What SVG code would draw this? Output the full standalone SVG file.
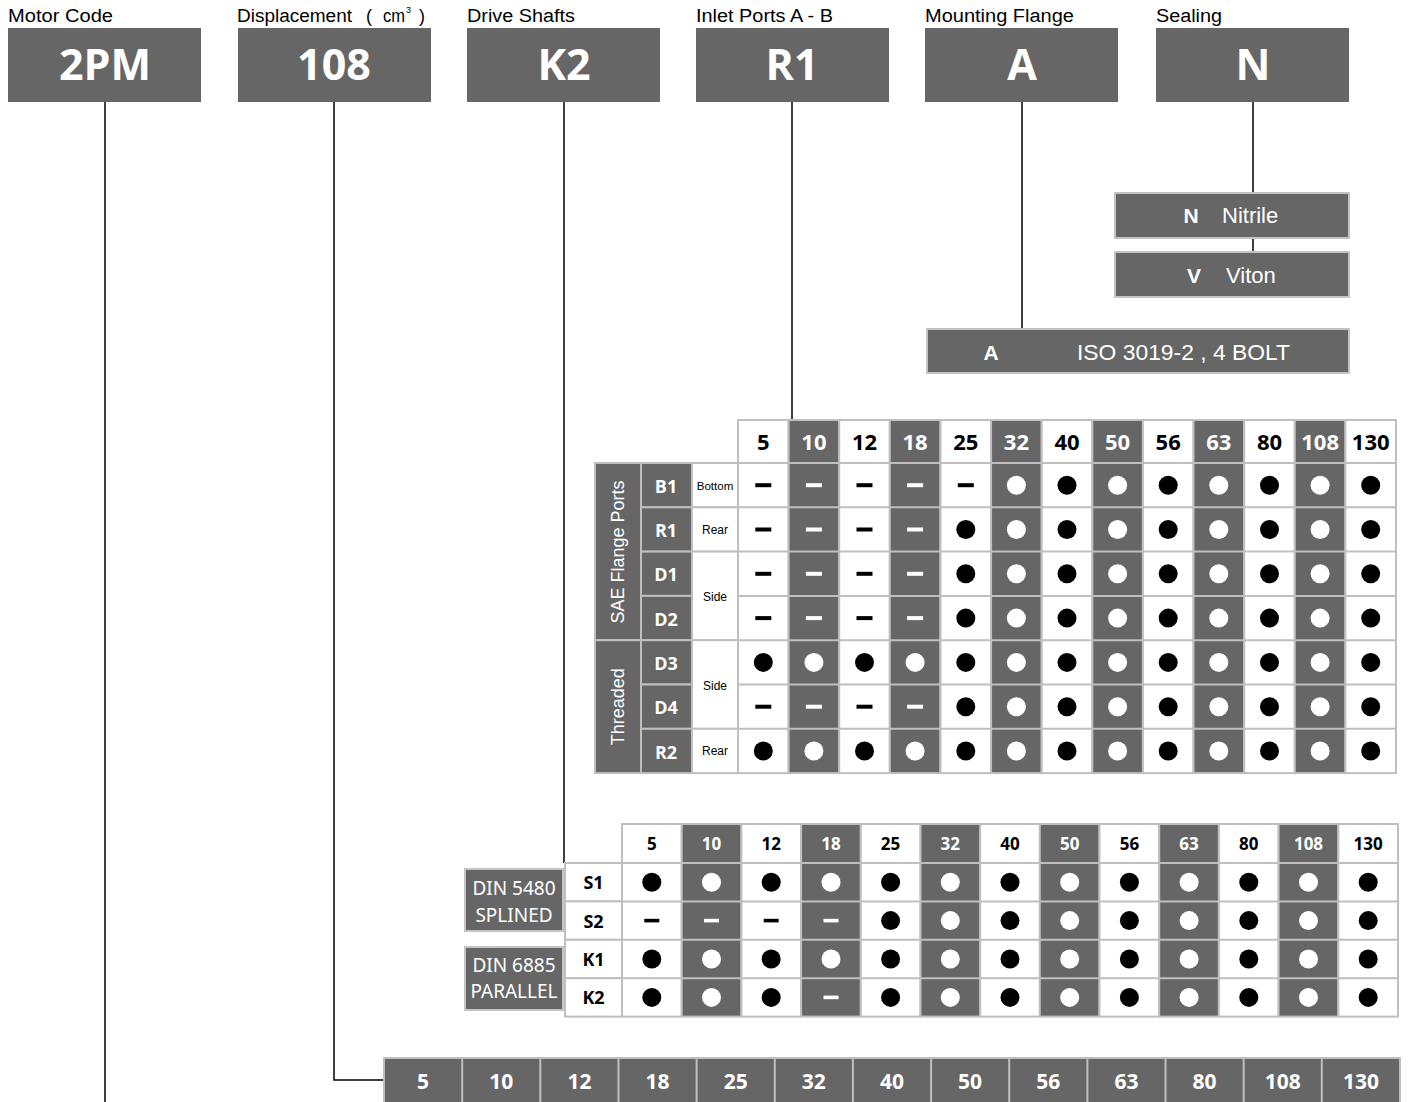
<svg xmlns="http://www.w3.org/2000/svg" xmlns:xlink="http://www.w3.org/1999/xlink" width="1408" height="1102" viewBox="0 0 1408 1102">
<style>
.lbl{font-family:"Liberation Sans",Arial,sans-serif;font-size:18px;fill:#000}
.big{font-family:"Open Sans","Noto Sans",sans-serif;font-weight:700;font-size:43px;fill:#fff;text-anchor:middle}
.dk{fill:#666}
.wt{fill:#fff}
.bx{fill:#666;stroke:#c4c4c4;stroke-width:2}
.st{font-family:"Liberation Sans",Arial,sans-serif;font-size:22px;fill:#fff}
.stb{font-family:"Liberation Sans",Arial,sans-serif;font-size:21px;font-weight:700;fill:#fff;text-anchor:middle}
.grid{fill:none;stroke:#bfbfbf;stroke-width:2}
.col{stroke:#bfbfbf;stroke-width:2}
.h1{font-family:"Open Sans","Noto Sans",sans-serif;font-weight:700;font-size:22px;text-anchor:middle}
.h2{font-family:"Open Sans","Noto Sans",sans-serif;font-weight:700;font-size:17px;text-anchor:middle}
.cd{font-family:"Open Sans","Noto Sans",sans-serif;font-weight:700;font-size:18px;text-anchor:middle}
.sm{font-family:"Liberation Sans",Arial,sans-serif;font-size:12px;fill:#000;text-anchor:middle}
.rot{font-family:"Liberation Sans",Arial,sans-serif;font-size:18px;fill:#fff;text-anchor:middle}
.din{font-family:"Noto Sans","Open Sans",sans-serif;font-size:19px;fill:#fff;text-anchor:middle}
.bar{font-family:"Open Sans","Noto Sans",sans-serif;font-weight:700;font-size:21px;fill:#fff;text-anchor:middle}
.con{fill:none;stroke:#000;stroke-width:1.5}
</style>
<defs>
<circle id="dt" r="9.5"/>
<rect id="ds" x="-8" y="-2" width="16" height="4"/>
<rect id="ds2" x="-7.5" y="-1.8" width="15" height="3.6"/>
</defs>

<!-- top labels -->
<g id="labels">
<text class="lbl" x="8" y="22" textLength="105" lengthAdjust="spacingAndGlyphs">Motor Code</text>
<text class="lbl" x="237" y="22" textLength="115" lengthAdjust="spacingAndGlyphs">Displacement</text>
<text class="lbl" x="366" y="22">(</text>
<text class="lbl" x="383" y="22" textLength="22" lengthAdjust="spacingAndGlyphs">cm</text>
<text class="lbl" x="406" y="13" style="font-size:9px">3</text>
<text class="lbl" x="419" y="22">)</text>
<text class="lbl" x="467" y="22" textLength="108" lengthAdjust="spacingAndGlyphs">Drive Shafts</text>
<text class="lbl" x="696" y="22" textLength="137" lengthAdjust="spacingAndGlyphs">Inlet Ports A - B</text>
<text class="lbl" x="925" y="22" textLength="149" lengthAdjust="spacingAndGlyphs">Mounting Flange</text>
<text class="lbl" x="1156" y="22" textLength="66" lengthAdjust="spacingAndGlyphs">Sealing</text>
</g>

<!-- connectors -->
<g id="connectors">
<path class="con" d="M105 101 V1102"/>
<path class="con" d="M334 101 V1080 H385"/>
<path class="con" d="M564 101 V863"/>
<path class="con" d="M792 101 V420"/>
<path class="con" d="M1022 101 V329"/>
<path class="con" d="M1253 101 V193"/>
<path class="con" d="M1253 238 V252"/>
</g>

<!-- header boxes -->
<g id="node-motor"><rect class="dk" x="8" y="28" width="193" height="74"/><text class="big" x="105" y="80">2PM</text></g>
<g id="node-disp"><rect class="dk" x="238" y="28" width="193" height="74"/><text class="big" x="334" y="80">108</text></g>
<g id="node-shaft"><rect class="dk" x="467" y="28" width="193" height="74"/><text class="big" x="564" y="80">K2</text></g>
<g id="node-ports"><rect class="dk" x="696" y="28" width="193" height="74"/><text class="big" x="792" y="80">R1</text></g>
<g id="node-flange"><rect class="dk" x="925" y="28" width="193" height="74"/><text class="big" x="1022" y="80">A</text></g>
<g id="node-seal"><rect class="dk" x="1156" y="28" width="193" height="74"/><text class="big" x="1253" y="80">N</text></g>

<!-- sealing options -->
<g id="node-nitrile"><rect class="bx" x="1115" y="193" width="234" height="45"/><text class="stb" x="1191" y="223">N</text><text class="st" x="1222" y="223">Nitrile</text></g>
<g id="node-viton"><rect class="bx" x="1115" y="252" width="234" height="45"/><text class="stb" x="1194" y="283">V</text><text class="st" x="1226" y="283">Viton</text></g>
<g id="node-iso"><rect class="bx" x="927" y="329" width="422" height="44"/><text class="stb" x="991" y="360">A</text><text class="st" x="1077" y="360" textLength="213" lengthAdjust="spacingAndGlyphs">ISO 3019-2 , 4 BOLT</text></g>

<!-- upper table -->
<g id="node-ports-table">
<g class="col">
<rect class="wt" x="738.0" y="420" width="50.6" height="353.1"/>
<rect class="dk" x="788.6" y="420" width="50.6" height="353.1"/>
<rect class="wt" x="839.2" y="420" width="50.6" height="353.1"/>
<rect class="dk" x="889.8" y="420" width="50.6" height="353.1"/>
<rect class="wt" x="940.5" y="420" width="50.6" height="353.1"/>
<rect class="dk" x="991.1" y="420" width="50.6" height="353.1"/>
<rect class="wt" x="1041.7" y="420" width="50.6" height="353.1"/>
<rect class="dk" x="1092.3" y="420" width="50.6" height="353.1"/>
<rect class="wt" x="1142.9" y="420" width="50.6" height="353.1"/>
<rect class="dk" x="1193.5" y="420" width="50.6" height="353.1"/>
<rect class="wt" x="1244.2" y="420" width="50.6" height="353.1"/>
<rect class="dk" x="1294.8" y="420" width="50.6" height="353.1"/>
<rect class="wt" x="1345.4" y="420" width="50.6" height="353.1"/>
<!-- left columns -->
<rect class="dk" x="595" y="463" width="46" height="177.2"/>
<rect class="dk" x="595" y="640.2" width="46" height="132.9"/>
<rect class="dk" x="641" y="463" width="51" height="44.3"/>
<rect class="dk" x="641" y="507.3" width="51" height="44.3"/>
<rect class="dk" x="641" y="551.6" width="51" height="44.3"/>
<rect class="dk" x="641" y="595.9" width="51" height="44.3"/>
<rect class="dk" x="641" y="640.2" width="51" height="44.3"/>
<rect class="dk" x="641" y="684.5" width="51" height="44.3"/>
<rect class="dk" x="641" y="728.8" width="51" height="44.3"/>
<rect class="wt" x="692" y="463" width="46" height="44.3"/>
<rect class="wt" x="692" y="507.3" width="46" height="44.3"/>
<rect class="wt" x="692" y="551.6" width="46" height="88.6"/>
<rect class="wt" x="692" y="640.2" width="46" height="88.6"/>
<rect class="wt" x="692" y="728.8" width="46" height="44.3"/>
</g>
<path class="grid" d="M738 463 H1396 M738 507.3 H1396 M738 551.6 H1396 M738 595.9 H1396 M738 640.2 H1396 M738 684.5 H1396 M738 728.8 H1396"/>
<text class="rot" transform="translate(624 552) rotate(-90)">SAE Flange Ports</text>
<text class="rot" transform="translate(624 706.7) rotate(-90)">Threaded</text>
<g class="cd" fill="#fff">
<text x="666" y="492.7">B1</text><text x="666" y="537">R1</text><text x="666" y="581.3">D1</text><text x="666" y="625.6">D2</text><text x="666" y="669.9">D3</text><text x="666" y="714.2">D4</text><text x="666" y="758.5">R2</text>
</g>
<text class="sm" x="715" y="489.5" style="font-size:11.5px">Bottom</text>
<text class="sm" x="715" y="534">Rear</text>
<text class="sm" x="715" y="601">Side</text>
<text class="sm" x="715" y="689.5">Side</text>
<text class="sm" x="715" y="755">Rear</text>
<g class="h1">
<text x="763.3" y="449.5" fill="#000">5</text><text x="813.9" y="449.5" fill="#fff">10</text><text x="864.5" y="449.5" fill="#000">12</text><text x="915.1" y="449.5" fill="#fff">18</text><text x="965.8" y="449.5" fill="#000">25</text><text x="1016.4" y="449.5" fill="#fff">32</text><text x="1067.0" y="449.5" fill="#000">40</text><text x="1117.6" y="449.5" fill="#fff">50</text><text x="1168.2" y="449.5" fill="#000">56</text><text x="1218.8" y="449.5" fill="#fff">63</text><text x="1269.5" y="449.5" fill="#000">80</text><text x="1320.1" y="449.5" fill="#fff">108</text><text x="1370.7" y="449.5" fill="#000">130</text>
</g>
<!-- marks col 0 -->
<g fill="#000"><use href="#ds" x="763.3" y="485.2"/><use href="#ds" x="763.3" y="529.5"/><use href="#ds" x="763.3" y="573.8"/><use href="#ds" x="763.3" y="618.1"/><use href="#dt" x="763.3" y="662.4"/><use href="#ds" x="763.3" y="706.7"/><use href="#dt" x="763.3" y="751"/></g>
<g fill="#fff"><use href="#ds" x="813.9" y="485.2"/><use href="#ds" x="813.9" y="529.5"/><use href="#ds" x="813.9" y="573.8"/><use href="#ds" x="813.9" y="618.1"/><use href="#dt" x="813.9" y="662.4"/><use href="#ds" x="813.9" y="706.7"/><use href="#dt" x="813.9" y="751"/></g>
<g fill="#000"><use href="#ds" x="864.5" y="485.2"/><use href="#ds" x="864.5" y="529.5"/><use href="#ds" x="864.5" y="573.8"/><use href="#ds" x="864.5" y="618.1"/><use href="#dt" x="864.5" y="662.4"/><use href="#ds" x="864.5" y="706.7"/><use href="#dt" x="864.5" y="751"/></g>
<g fill="#fff"><use href="#ds" x="915.1" y="485.2"/><use href="#ds" x="915.1" y="529.5"/><use href="#ds" x="915.1" y="573.8"/><use href="#ds" x="915.1" y="618.1"/><use href="#dt" x="915.1" y="662.4"/><use href="#ds" x="915.1" y="706.7"/><use href="#dt" x="915.1" y="751"/></g>
<g fill="#000"><use href="#ds" x="965.8" y="485.2"/><use href="#dt" x="965.8" y="529.5"/><use href="#dt" x="965.8" y="573.8"/><use href="#dt" x="965.8" y="618.1"/><use href="#dt" x="965.8" y="662.4"/><use href="#dt" x="965.8" y="706.7"/><use href="#dt" x="965.8" y="751"/></g>
<g fill="#fff"><use href="#dt" x="1016.4" y="485.2"/><use href="#dt" x="1016.4" y="529.5"/><use href="#dt" x="1016.4" y="573.8"/><use href="#dt" x="1016.4" y="618.1"/><use href="#dt" x="1016.4" y="662.4"/><use href="#dt" x="1016.4" y="706.7"/><use href="#dt" x="1016.4" y="751"/></g>
<g fill="#000"><use href="#dt" x="1067" y="485.2"/><use href="#dt" x="1067" y="529.5"/><use href="#dt" x="1067" y="573.8"/><use href="#dt" x="1067" y="618.1"/><use href="#dt" x="1067" y="662.4"/><use href="#dt" x="1067" y="706.7"/><use href="#dt" x="1067" y="751"/></g>
<g fill="#fff"><use href="#dt" x="1117.6" y="485.2"/><use href="#dt" x="1117.6" y="529.5"/><use href="#dt" x="1117.6" y="573.8"/><use href="#dt" x="1117.6" y="618.1"/><use href="#dt" x="1117.6" y="662.4"/><use href="#dt" x="1117.6" y="706.7"/><use href="#dt" x="1117.6" y="751"/></g>
<g fill="#000"><use href="#dt" x="1168.2" y="485.2"/><use href="#dt" x="1168.2" y="529.5"/><use href="#dt" x="1168.2" y="573.8"/><use href="#dt" x="1168.2" y="618.1"/><use href="#dt" x="1168.2" y="662.4"/><use href="#dt" x="1168.2" y="706.7"/><use href="#dt" x="1168.2" y="751"/></g>
<g fill="#fff"><use href="#dt" x="1218.8" y="485.2"/><use href="#dt" x="1218.8" y="529.5"/><use href="#dt" x="1218.8" y="573.8"/><use href="#dt" x="1218.8" y="618.1"/><use href="#dt" x="1218.8" y="662.4"/><use href="#dt" x="1218.8" y="706.7"/><use href="#dt" x="1218.8" y="751"/></g>
<g fill="#000"><use href="#dt" x="1269.5" y="485.2"/><use href="#dt" x="1269.5" y="529.5"/><use href="#dt" x="1269.5" y="573.8"/><use href="#dt" x="1269.5" y="618.1"/><use href="#dt" x="1269.5" y="662.4"/><use href="#dt" x="1269.5" y="706.7"/><use href="#dt" x="1269.5" y="751"/></g>
<g fill="#fff"><use href="#dt" x="1320.1" y="485.2"/><use href="#dt" x="1320.1" y="529.5"/><use href="#dt" x="1320.1" y="573.8"/><use href="#dt" x="1320.1" y="618.1"/><use href="#dt" x="1320.1" y="662.4"/><use href="#dt" x="1320.1" y="706.7"/><use href="#dt" x="1320.1" y="751"/></g>
<g fill="#000"><use href="#dt" x="1370.7" y="485.2"/><use href="#dt" x="1370.7" y="529.5"/><use href="#dt" x="1370.7" y="573.8"/><use href="#dt" x="1370.7" y="618.1"/><use href="#dt" x="1370.7" y="662.4"/><use href="#dt" x="1370.7" y="706.7"/><use href="#dt" x="1370.7" y="751"/></g>
</g>

<!-- lower table -->
<g id="node-shaft-table">
<g class="col">
<rect class="wt" x="622.0" y="824" width="59.7" height="192.6"/>
<rect class="dk" x="681.7" y="824" width="59.7" height="192.6"/>
<rect class="wt" x="741.4" y="824" width="59.7" height="192.6"/>
<rect class="dk" x="801.1" y="824" width="59.7" height="192.6"/>
<rect class="wt" x="860.8" y="824" width="59.7" height="192.6"/>
<rect class="dk" x="920.5" y="824" width="59.7" height="192.6"/>
<rect class="wt" x="980.2" y="824" width="59.7" height="192.6"/>
<rect class="dk" x="1039.8" y="824" width="59.7" height="192.6"/>
<rect class="wt" x="1099.5" y="824" width="59.7" height="192.6"/>
<rect class="dk" x="1159.2" y="824" width="59.7" height="192.6"/>
<rect class="wt" x="1218.9" y="824" width="59.7" height="192.6"/>
<rect class="dk" x="1278.6" y="824" width="59.7" height="192.6"/>
<rect class="wt" x="1338.3" y="824" width="59.7" height="192.6"/>
<rect class="wt" x="565" y="863" width="57" height="38.4"/>
<rect class="wt" x="565" y="901.4" width="57" height="38.4"/>
<rect class="wt" x="565" y="939.8" width="57" height="38.4"/>
<rect class="wt" x="565" y="978.2" width="57" height="38.4"/>
</g>
<path class="grid" d="M622 863 H1398 M622 901.4 H1398 M622 939.8 H1398 M622 978.2 H1398"/>
<g class="h2">
<text x="651.8" y="850" fill="#000">5</text><text x="711.5" y="850" fill="#fff">10</text><text x="771.2" y="850" fill="#000">12</text><text x="831.0" y="850" fill="#fff">18</text><text x="890.6" y="850" fill="#000">25</text><text x="950.3" y="850" fill="#fff">32</text><text x="1010.0" y="850" fill="#000">40</text><text x="1069.7" y="850" fill="#fff">50</text><text x="1129.4" y="850" fill="#000">56</text><text x="1189.1" y="850" fill="#fff">63</text><text x="1248.8" y="850" fill="#000">80</text><text x="1308.5" y="850" fill="#fff">108</text><text x="1368.2" y="850" fill="#000">130</text>
</g>
<g class="cd" fill="#000">
<text x="593.5" y="889.2">S1</text><text x="593.5" y="927.6">S2</text><text x="593.5" y="966">K1</text><text x="593.5" y="1004.4">K2</text>
</g>
<g fill="#000"><use href="#dt" x="651.8" y="882.2"/><use href="#ds2" x="651.8" y="920.6"/><use href="#dt" x="651.8" y="959"/><use href="#dt" x="651.8" y="997.4"/></g>
<g fill="#fff"><use href="#dt" x="711.5" y="882.2"/><use href="#ds2" x="711.5" y="920.6"/><use href="#dt" x="711.5" y="959"/><use href="#dt" x="711.5" y="997.4"/></g>
<g fill="#000"><use href="#dt" x="771.2" y="882.2"/><use href="#ds2" x="771.2" y="920.6"/><use href="#dt" x="771.2" y="959"/><use href="#dt" x="771.2" y="997.4"/></g>
<g fill="#fff"><use href="#dt" x="831" y="882.2"/><use href="#ds2" x="831" y="920.6"/><use href="#dt" x="831" y="959"/><use href="#ds2" x="831" y="997.4"/></g>
<g fill="#000"><use href="#dt" x="890.6" y="882.2"/><use href="#dt" x="890.6" y="920.6"/><use href="#dt" x="890.6" y="959"/><use href="#dt" x="890.6" y="997.4"/></g>
<g fill="#fff"><use href="#dt" x="950.3" y="882.2"/><use href="#dt" x="950.3" y="920.6"/><use href="#dt" x="950.3" y="959"/><use href="#dt" x="950.3" y="997.4"/></g>
<g fill="#000"><use href="#dt" x="1010" y="882.2"/><use href="#dt" x="1010" y="920.6"/><use href="#dt" x="1010" y="959"/><use href="#dt" x="1010" y="997.4"/></g>
<g fill="#fff"><use href="#dt" x="1069.7" y="882.2"/><use href="#dt" x="1069.7" y="920.6"/><use href="#dt" x="1069.7" y="959"/><use href="#dt" x="1069.7" y="997.4"/></g>
<g fill="#000"><use href="#dt" x="1129.4" y="882.2"/><use href="#dt" x="1129.4" y="920.6"/><use href="#dt" x="1129.4" y="959"/><use href="#dt" x="1129.4" y="997.4"/></g>
<g fill="#fff"><use href="#dt" x="1189.1" y="882.2"/><use href="#dt" x="1189.1" y="920.6"/><use href="#dt" x="1189.1" y="959"/><use href="#dt" x="1189.1" y="997.4"/></g>
<g fill="#000"><use href="#dt" x="1248.8" y="882.2"/><use href="#dt" x="1248.8" y="920.6"/><use href="#dt" x="1248.8" y="959"/><use href="#dt" x="1248.8" y="997.4"/></g>
<g fill="#fff"><use href="#dt" x="1308.5" y="882.2"/><use href="#dt" x="1308.5" y="920.6"/><use href="#dt" x="1308.5" y="959"/><use href="#dt" x="1308.5" y="997.4"/></g>
<g fill="#000"><use href="#dt" x="1368.2" y="882.2"/><use href="#dt" x="1368.2" y="920.6"/><use href="#dt" x="1368.2" y="959"/><use href="#dt" x="1368.2" y="997.4"/></g>
</g>

<g id="node-splined"><rect class="bx" x="465" y="869" width="98" height="62"/><text class="din" x="514" y="895">DIN 5480</text><text class="din" x="514" y="922">SPLINED</text></g>
<g id="node-parallel"><rect class="bx" x="465" y="947" width="98" height="63"/><text class="din" x="514" y="972">DIN 6885</text><text class="din" x="514" y="998">PARALLEL</text></g>

<!-- bottom bar -->
<g id="node-disp-bar">
<rect class="dk" x="384" y="1058" width="1016" height="46" stroke="#bfbfbf" stroke-width="2"/>
<path class="grid" d="M462.2 1058 V1102 M540.3 1058 V1102 M618.5 1058 V1102 M696.6 1058 V1102 M774.8 1058 V1102 M852.9 1058 V1102 M931.1 1058 V1102 M1009.2 1058 V1102 M1087.4 1058 V1102 M1165.5 1058 V1102 M1243.7 1058 V1102 M1321.8 1058 V1102"/>
<g class="bar">
<text x="423.1" y="1088.5">5</text><text x="501.2" y="1088.5">10</text><text x="579.4" y="1088.5">12</text><text x="657.5" y="1088.5">18</text><text x="735.7" y="1088.5">25</text><text x="813.8" y="1088.5">32</text><text x="892" y="1088.5">40</text><text x="970.1" y="1088.5">50</text><text x="1048.3" y="1088.5">56</text><text x="1126.4" y="1088.5">63</text><text x="1204.6" y="1088.5">80</text><text x="1282.7" y="1088.5">108</text><text x="1360.9" y="1088.5">130</text>
</g>
</g>
</svg>
